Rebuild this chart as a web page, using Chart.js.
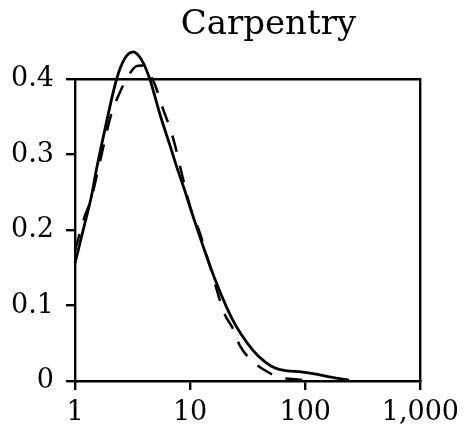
<!DOCTYPE html>
<html>
<head>
<meta charset="utf-8">
<script src="https://cdn.jsdelivr.net/npm/chart.js@4.4.1/dist/chart.umd.min.js"></script>
<style>
  html, body { margin: 0; padding: 0; background: #fff; }
  #wrap { width: 466px; height: 431px; }
</style>
</head>
<body>
<div id="wrap"><canvas id="carpentry-chart"></canvas></div>
<script>
// =========================
// Data
// =========================
const titleText = "Carpentry";
const xTicks = [1, 10, 100, 1000];
const yTicks = [0, 0.1, 0.2, 0.3, 0.4];

// solid curve
const solidX = [1, 1.2, 1.39, 1.54, 1.8, 2.3, 2.7, 3.2, 3.8, 4.46, 5.5, 6.65, 7.6, 9, 10.6, 13, 16.9, 23.4, 35, 45, 55.7, 70, 88.7, 120, 151, 200, 240];
const solidY = [0.156, 0.205, 0.245, 0.281, 0.33, 0.4, 0.427, 0.436, 0.425, 0.4, 0.352, 0.313, 0.285, 0.252, 0.218, 0.178, 0.13, 0.081, 0.041, 0.025, 0.0167, 0.0135, 0.0123, 0.0095, 0.0066, 0.003, 0.001];

// dashed curve
const dashedX = [1, 1.22, 1.37, 1.6, 2.08, 2.37, 2.8, 3.42, 3.8, 4.3, 4.93, 5.82, 6.65, 7.34, 8.67, 10.2, 11.9, 15, 19.9, 23.5, 26.9, 33.9, 44.2, 59.6, 86, 120];
const dashedY = [0.173, 0.219, 0.239, 0.282, 0.355, 0.377, 0.4, 0.417, 0.418, 0.41, 0.393, 0.36, 0.336, 0.314, 0.268, 0.226, 0.2, 0.15, 0.089, 0.0696, 0.0475, 0.0277, 0.0145, 0.005, 0.002, 0.0];

function toPoints(xs, ys) {
  return xs.map((x, i) => ({ x: x, y: ys[i] }));
}

const serif = "'DejaVu Serif', serif";
const tickFont = { family: serif, size: 27 };

// title sits a bit right of the plot centre, like the original
const titlePlugin = {
  id: "sideTitle",
  afterDraw(chart) {
    const { ctx, chartArea } = chart;
    ctx.save();
    ctx.fillStyle = "#000";
    ctx.font = "34px " + serif;
    ctx.textAlign = "center";
    ctx.textBaseline = "alphabetic";
    const cx = chartArea.left + (chartArea.right - chartArea.left) * 0.56;
    ctx.fillText(titleText, cx, 34);
    ctx.restore();
  },
};

const axisGrid = {
  display: true,
  drawOnChartArea: false,
  drawTicks: true,
  tickLength: 9,
  color: "#000",
  lineWidth: 2.4,
};
const axisBorder = { display: true, color: "#000", width: 2.4 };

const canvas = document.getElementById("carpentry-chart");

new Chart(canvas, {
  type: "line",
  data: {
    datasets: [
      {
        label: "solid",
        data: toPoints(solidX, solidY),
        borderColor: "#000",
        borderWidth: 2.8,
        pointRadius: 0,
        cubicInterpolationMode: "monotone",
        clip: false,
      },
      {
        label: "dashed",
        data: toPoints(dashedX, dashedY),
        borderColor: "#000",
        borderWidth: 2.5,
        borderDash: [17, 14],
        pointRadius: 0,
        cubicInterpolationMode: "monotone",
        clip: false,
      },
    ],
  },
  options: {
    responsive: true,
    maintainAspectRatio: false,
    animation: false,
    layout: { padding: { top: 79, right: 44, left: 0, bottom: 0 } },
    plugins: {
      legend: { display: false },
      tooltip: { enabled: false },
    },
    scales: {
      x: {
        type: "logarithmic",
        position: "bottom",
        min: 1,
        max: 1000,
        afterBuildTicks: (s) => { s.ticks = xTicks.map((v) => ({ value: v })); },
        afterFit: (s) => { s.height = 50; },
        ticks: {
          color: "#000",
          font: tickFont,
          padding: 7,
          maxRotation: 0,
          autoSkip: false,
          callback: (v) => Number(v).toLocaleString("en-US"),
        },
        grid: axisGrid,
        border: axisBorder,
      },
      y: {
        type: "linear",
        position: "left",
        min: 0,
        max: 0.4,
        afterBuildTicks: (s) => { s.ticks = yTicks.map((v) => ({ value: v })); },
        afterFit: (s) => { s.width = 75; },
        ticks: {
          color: "#000",
          font: tickFont,
          padding: 12,
          callback: (v) => String(v),
        },
        grid: axisGrid,
        border: axisBorder,
      },
      xTop: {
        type: "logarithmic",
        position: "top",
        min: 1,
        max: 1000,
        afterFit: (s) => { s.height = 0; },
        ticks: { display: false },
        grid: { display: false },
        border: axisBorder,
      },
      yRight: {
        type: "linear",
        position: "right",
        min: 0,
        max: 0.4,
        afterFit: (s) => { s.width = 0; },
        ticks: { display: false },
        grid: { display: false },
        border: axisBorder,
      },
    },
  },
  plugins: [titlePlugin],
});
</script>
</body>
</html>
